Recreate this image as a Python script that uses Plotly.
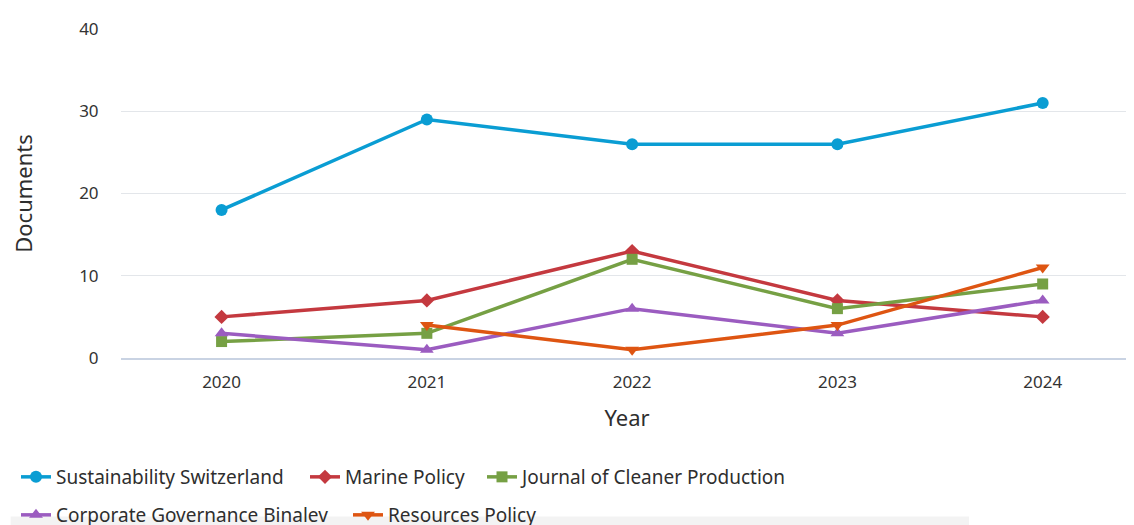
import plotly.graph_objects as go

years = [2020, 2021, 2022, 2023, 2024]
sustainability = [18, 29, 26, 26, 31]
marine = [5, 7, 13, 7, 5]
cleaner = [2, 3, 12, 6, 9]
corporate = [3, 1, 6, 3, 7]
resources = [None, 4, 1, 4, 11]

names = ["Sustainability Switzerland", "Marine Policy", "Journal of Cleaner Production",
         "Corporate Governance Binalev", "Resources Policy"]
series = [sustainability, marine, cleaner, corporate, resources]
colors = ["#0a9dd3", "#c4393f", "#76a044", "#9b5cc0", "#de5512"]
symbols = ["circle", "diamond", "square", "triangle-up", "triangle-down"]
sizes = [12, 11, 11, 12, 12]
legend_ids = ["legend", "legend2", "legend3", "legend4", "legend5"]

FONT = "Noto Sans"
W, H = 1134, 525
OFF = 8  # page body margin offset

fig = go.Figure()
for n, s, c, sym, sz, lg in zip(names, series, colors, symbols, sizes, legend_ids):
    fig.add_trace(go.Scatter(
        x=years, y=s, name=n, mode="lines+markers",
        line=dict(color=c, width=3.5),
        marker=dict(color=c, symbol=sym, size=sz),
        legend=lg, connectgaps=False,
    ))

# legend text start positions (px) and row centres (px), screen coordinates
text_x = [56, 345, 522, 56, 388]
row_y = [477, 477, 477, 515, 515]
legends = {}
for lg, tx, ry in zip(legend_ids, text_x, row_y):
    legends[lg] = dict(
        orientation="h", xref="container", yref="container",
        x=(tx - OFF - 40) / W, xanchor="left",
        y=1 - (ry - OFF) / H, yanchor="middle",
        font=dict(family=FONT, size=19, color="#2e2e2e"),
        bgcolor="rgba(0,0,0,0)", borderwidth=0,
    )

fig.update_layout(
    width=W, height=H,
    margin=dict(l=113, r=9, t=16, b=175),
    paper_bgcolor="white", plot_bgcolor="white",
    font=dict(family=FONT, color="#333333"),
    showlegend=True,
    xaxis=dict(
        range=[2019.51, 2024.44], tickvals=years, ticktext=[str(y) for y in years],
        showgrid=False, zeroline=False,
        showline=True, linecolor="#c9d3e3", linewidth=1.5,
        ticks="outside", ticklen=8, tickcolor="rgba(0,0,0,0)",
        tickfont=dict(family=FONT, size=17, color="#333333"),
        title=dict(text="Year", font=dict(family=FONT, size=22, color="#2e2e2e"), standoff=18),
    ),
    yaxis=dict(
        range=[0, 40], tickvals=[0, 10, 20, 30, 40],
        showgrid=True, gridcolor="#e3e6ea", gridwidth=1,
        zeroline=False, showline=False,
        ticks="outside", ticklen=18, tickcolor="rgba(0,0,0,0)",
        tickfont=dict(family=FONT, size=17, color="#333333"),
        title=dict(text="Documents", font=dict(family=FONT, size=22, color="#2e2e2e"), standoff=40),
    ),
    shapes=[dict(type="rect", xref="paper", yref="paper",
                 x0=-0.109, x1=0.838, y0=-0.482, y1=-0.6,
                 fillcolor="#f3f3f3", line=dict(width=0), layer="below")],
    **legends,
)

fig.write_html("out.html")
